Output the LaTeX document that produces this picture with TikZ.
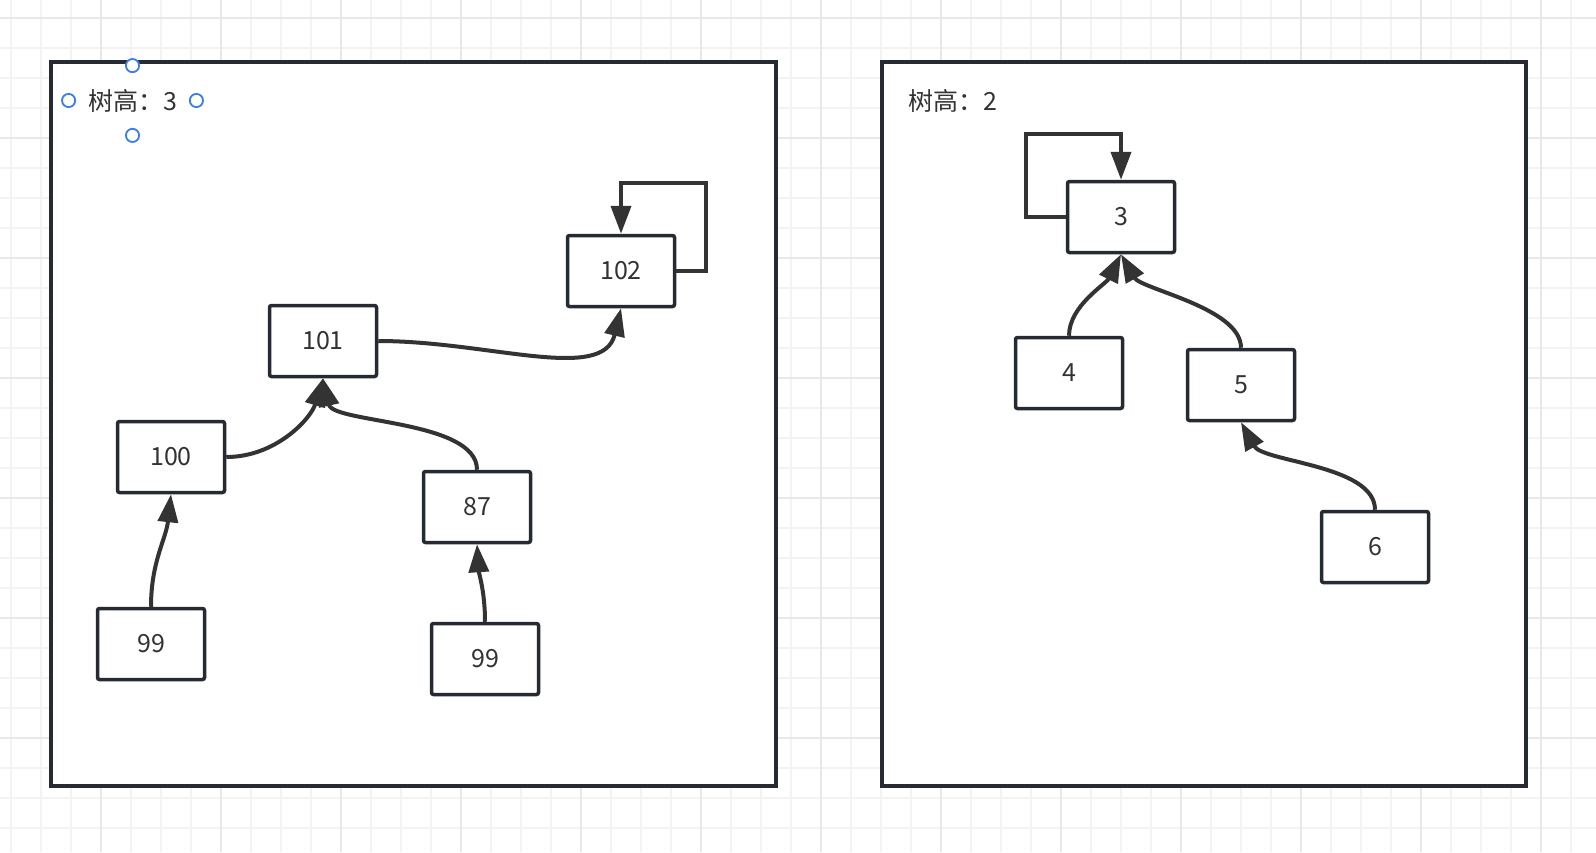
\documentclass[tikz,border=0pt]{standalone}
\usepackage{fontspec}
\newfontfamily\cjk{Noto Sans CJK SC}
\usepackage{tikz}
\usetikzlibrary{arrows.meta, positioning, calc}
\usepackage{xcolor}
\definecolor{frame-dark}{HTML}{262A33}
\definecolor{link-gray}{HTML}{333333}
\definecolor{handle-blue}{HTML}{3B7DED}
\definecolor{grid-minor}{HTML}{F3F3F3}
\definecolor{grid-major}{HTML}{E8E8E8}
\tikzset{
  tbox/.style={draw=frame-dark, fill=white, line width=1.75pt, rounded corners=1pt,
    minimum width=53.5pt, minimum height=35.5pt, inner sep=0pt,
    text=link-gray, font=\cjk\fontsize{12.5}{15}\selectfont},
  link/.style={draw=link-gray, line width=2pt, -{Triangle[length=14pt,width=10pt]}},
  hlabel/.style={inner sep=0pt, minimum width=63.5pt, minimum height=34.5pt,
    text=link-gray, font=\cjk\fontsize{12.5}{15}\selectfont},
  handle/.style={draw=handle-blue, fill=white, line width=0.9pt},
  panel/.style={draw=frame-dark, fill=white, line width=1.6pt}
}

\begin{document}
\begin{tikzpicture}[x=0.5pt, y=-0.5pt]
        \useasboundingbox (0,0) rectangle (1596,852);
        % ── background grid ──
        \foreach \gx in {11,41,...,1596}
          \draw[grid-minor, line width=0.8pt] (\gx,0) -- (\gx,852);
        \foreach \gy in {18,48,...,852}
          \draw[grid-minor, line width=0.8pt] (0,\gy) -- (1596,\gy);
        \foreach \gx in {101,221,...,1596}
          \draw[grid-major, line width=0.8pt] (\gx,0) -- (\gx,852);
        \foreach \gy in {18,138,...,852}
          \draw[grid-major, line width=0.8pt] (0,\gy) -- (1596,\gy);

        % ── left panel: height 3 ──
        \draw[panel] (51,62) rectangle (776,786);
        \node[hlabel] (hl) at (132.5,100.5) {树高：3};
        \draw[handle] (hl.north) circle[radius=3.3pt];
        \draw[handle] (hl.south) circle[radius=3.3pt];
        \draw[handle] (hl.west) circle[radius=3.3pt];
        \draw[handle] (hl.east) circle[radius=3.3pt];

        \node[tbox] (n102) at (621,271) {102};
        \node[tbox] (n101) at (323,341) {101};
        \node[tbox] (n100) at (171,457) {100};
        \node[tbox] (n87)  at (477,507) {87};
        \node[tbox] (n99a) at (151,644) {99};
        \node[tbox] (n99b) at (485,659) {99};

        \draw[link] (n99a.north) .. controls +(0,-45) and +(-5,45) .. (n100.south);
        \draw[link] (n100.east) .. controls +(50,0) and +(-12,40) .. (n101.south);
        \draw[link] (n87.north) .. controls +(0,-50) and +(10,45) .. (n101.south);
        \draw[link] (n99b.north) .. controls +(0,-30) and +(2,30) .. (n87.south);
        \draw[link] (n101.east) .. controls +(110,0) and +(-18,75) .. (n102.south);
        % root points to itself
        \coordinate (c102) at ($(n102.north)+(85,-51)$);
        \draw[link] (n102.east) -| (c102) -| (n102.north);

        % ── right panel: height 2 ──
        \draw[panel] (882,62) rectangle (1526,786);
        \node[hlabel] (hr) at (953,100.5) {树高：2};

        \node[tbox] (n3) at (1121,217) {3};
        \node[tbox] (n4) at (1069,373) {4};
        \node[tbox] (n5) at (1241,385) {5};
        \node[tbox] (n6) at (1375,547) {6};

        \draw[link] (n4.north) .. controls +(0,-30) and +(-15,30) .. (n3.south);
        \draw[link] (n5.north) .. controls +(0,-40) and +(20,35) .. (n3.south);
        \draw[link] (n6.north) .. controls +(0,-45) and +(22,40) .. (n5.south);
        \coordinate (c3) at ($(n3.north)+(-95,-46)$);
        \draw[link] (n3.west) -| (c3) -| (n3.north);
      \end{tikzpicture}
\end{document}
